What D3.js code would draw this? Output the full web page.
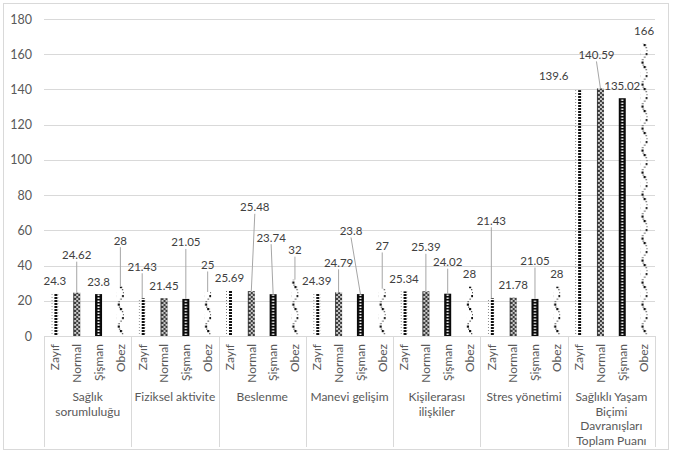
<!DOCTYPE html>
<html><head><meta charset="utf-8">
<script src="https://cdn.jsdelivr.net/npm/d3@7"></script>
<style>
html,body{margin:0;padding:0;background:#fff;}
svg{display:block;font-family:Lato,"Open Sans",sans-serif;}
</style></head>
<body>
<svg id="chart" width="673" height="453"></svg>
<script>
// ---- data ----
const categories = [
  ["Sağlık","sorumluluğu"],
  ["Fiziksel aktivite"],
  ["Beslenme"],
  ["Manevi gelişim"],
  ["Kişilerarası","ilişkiler"],
  ["Stres yönetimi"],
  ["Sağlıklı Yaşam","Biçimi","Davranışları","Toplam Puanı"]
];
const groups = ["Zayıf","Normal","Şişman","Obez"];
const zayif  = [24.3, 21.43, 25.69, 24.39, 25.34, 21.43, 139.6];
const normal = [24.62, 21.45, 25.48, 24.79, 25.39, 21.78, 140.59];
const sisman = [23.8, 21.05, 23.74, 23.8, 24.02, 21.05, 135.02];
const obez   = [28, 25, 32, 27, 28, 28, 166];
const yTicks = [0, 20, 40, 60, 80, 100, 120, 140, 160, 180];
const series = [zayif, normal, sisman, obez];

// ---- label placement (layout, px offsets from default spot) ----
const labelDy = [
  [0, -19, 0, 0, 0, -65, -1.6],
  [-25, 0, -71.3, -17, -31.5, 0, -21],
  [0, -44, -44, -50.6, -19, -25.4, 0],
  [-33.5, -14.5, -17, -30, 0, 0, 0]
];
const labelDx = [
  [0, 0, 0, 0, 0, 0, -25],
  [0, 0, 3.5, 0, 0, 0, -4],
  [0, 0, -2, -9.4, 0, 0, 0],
  [0, 0, 0, 0, 0, 0, 0]
];

const svg = d3.select("#chart");
const plotL = 44, plotR = 655, plotT = 19, plotB = 336;

// patterns
const defs = svg.append("defs");
let p = defs.append("pattern").attr("id","pZ").attr("patternUnits","userSpaceOnUse").attr("width",7).attr("height",3);
p.append("rect").attr("x",0).attr("y",0).attr("width",1).attr("height",1).attr("fill","#777");
p.append("rect").attr("x",3).attr("y",0).attr("width",3).attr("height",2).attr("fill","#111");
p = defs.append("pattern").attr("id","pN").attr("patternUnits","userSpaceOnUse").attr("width",8).attr("height",4);
p.append("rect").attr("width",8).attr("height",4).attr("fill","#3a3a3a");
p.append("circle").attr("cx",2).attr("cy",1).attr("r",1.1).attr("fill","#d8d8d8");
p.append("circle").attr("cx",6).attr("cy",1).attr("r",1.1).attr("fill","#d8d8d8");
p.append("circle").attr("cx",4).attr("cy",3).attr("r",1.1).attr("fill","#d8d8d8");
p = defs.append("pattern").attr("id","pS").attr("patternUnits","userSpaceOnUse").attr("width",7).attr("height",3);
p.append("rect").attr("width",7).attr("height",3).attr("fill","#0a0a0a");
p.append("rect").attr("x",2.5).attr("y",0.5).attr("width",2).attr("height",1.5).attr("fill","#fff");
p = defs.append("pattern").attr("id","pO").attr("patternUnits","userSpaceOnUse").attr("width",8).attr("height",22);
[[3,0,2.2,"#111"],[5,3,1.3,"#555"],[6,6,1.3,"#555"],[5.2,9,2.2,"#111"],[3.5,12.5,1.3,"#555"],[1.5,15,1.3,"#555"],[0.8,17.5,2.2,"#111"],[2,20.5,1.3,"#555"]].forEach(d=>{
  p.append("rect").attr("x",d[0]).attr("y",d[1]).attr("width",d[2]).attr("height",d[2]).attr("fill",d[3]);
});
const fills = ["url(#pZ)","url(#pN)","url(#pS)","url(#pO)"];

// border
svg.append("rect").attr("x",3.5).attr("y",3.5).attr("width",665).attr("height",446)
  .attr("fill","#fff").attr("stroke","#d9d9d9").attr("stroke-width",1);

const x0 = d3.scaleBand().domain(d3.range(categories.length)).range([plotL, plotR]).padding(0);
const x1 = d3.scaleBand().domain(groups).range([0, x0.bandwidth()]).padding(0);
const y = d3.scaleLinear().domain([0, 180]).range([plotB, plotT]);

// gridlines
svg.append("g").selectAll("line").data(yTicks.filter(t=>t>0)).join("line")
  .attr("x1",plotL).attr("x2",plotR)
  .attr("y1",d=>Math.round(y(d))+0.5).attr("y2",d=>Math.round(y(d))+0.5)
  .attr("stroke","#d9d9d9").attr("stroke-width",1);

// y axis labels
const ya = svg.append("g").attr("transform",`translate(${plotL},0)`)
  .call(d3.axisLeft(y).tickValues(yTicks).tickSize(0).tickPadding(12));
ya.select(".domain").remove();
ya.selectAll("text").attr("fill","#595959").style("font-size","12.5px").style("font-family","Lato");

// bars
const barW = 7;
const cx = (c, s) => x0(c) + x1(groups[s]) + x1.bandwidth()/2;
series.forEach((vals, s) => {
  svg.append("g").selectAll("g").data(vals).join("g")
    .attr("transform",(d,c)=>`translate(${cx(c,s)-barW/2},0)`)
    .append("rect")
    .attr("x",0).attr("width",barW)
    .attr("y",d=>y(d)).attr("height",d=>y(0)-y(d))
    .attr("fill",fills[s]);
});

// axis line
svg.append("line").attr("x1",plotL).attr("x2",plotR).attr("y1",plotB+0.5).attr("y2",plotB+0.5)
  .attr("stroke","#d9d9d9");
// separators
svg.append("g").selectAll("line").data(d3.range(categories.length+1)).join("line")
  .attr("x1",i=>Math.round(plotL + i*x0.bandwidth())+0.5).attr("x2",i=>Math.round(plotL + i*x0.bandwidth())+0.5)
  .attr("y1",plotB).attr("y2",447).attr("stroke","#d9d9d9");

// group tick labels (rotated) via axis per category
categories.forEach((cat, c) => {
  const g = svg.append("g").attr("transform",`translate(${x0(c)},${plotB})`)
    .call(d3.axisBottom(x1).tickSize(0).tickPadding(0));
  g.select(".domain").remove();
  g.selectAll("text")
    .attr("transform","rotate(-90)")
    .attr("x",-8).attr("y",0).attr("dy","0.36em")
    .attr("text-anchor","end")
    .attr("fill","#595959").style("font-size","12px").style("font-family","Lato");
});

// category labels
categories.forEach((lines, c) => {
  const t = svg.append("text").attr("x",x0(c)+x0.bandwidth()/2).attr("y",401)
    .attr("text-anchor","middle").attr("fill","#595959").style("font-size","12px");
  lines.forEach((ln,i)=> t.append("tspan").attr("x",x0(c)+x0.bandwidth()/2).attr("dy", i===0?0:14.7).text(ln));
});

// data labels + leaders
series.forEach((vals, s) => {
  vals.forEach((v, c) => {
    const bx = cx(c,s), by = y(v);
    const lx = bx + labelDx[s][c];
    const ly = by - 12.5 + labelDy[s][c];
    if (labelDy[s][c] < -10) {
      svg.append("line").attr("x1",lx).attr("y1",ly+6.5).attr("x2",bx).attr("y2",by)
        .attr("stroke","#a6a6a6").attr("stroke-width",1);
    }
    svg.append("text").attr("x",lx).attr("y",ly).attr("dy","0.35em")
      .attr("text-anchor","middle").attr("fill","#404040").style("font-size","11.5px")
      .text(String(v));
  });
});
</script>
</body></html>
